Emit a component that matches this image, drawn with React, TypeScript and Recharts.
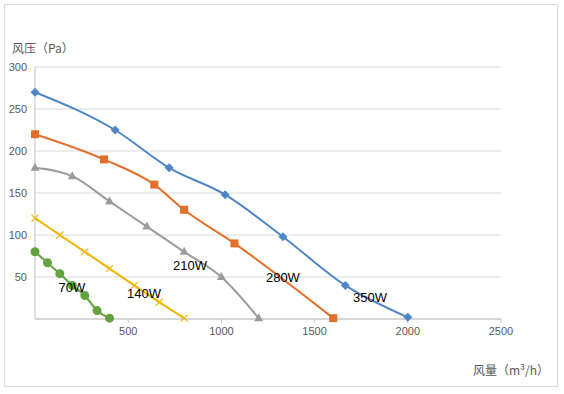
import { CartesianGrid, Line, LineChart, ReferenceDot, XAxis, YAxis } from "recharts";

// air flow (m³/h) and pressure (Pa)
const flow350 = [0, 430, 720, 1020, 1330, 1665, 2000];
const pres350 = [270, 225, 180, 148, 98, 40, 2];
const flow280 = [0, 370, 640, 800, 1070, 1600];
const pres280 = [220, 190, 160, 130, 90, 1];
const flow210 = [0, 200, 400, 600, 800, 1000, 1200];
const pres210 = [180, 170, 140, 110, 80, 50, 1];
const flow140 = [0, 133, 267, 400, 533, 667, 800];
const pres140 = [120, 100, 80, 60, 40, 20, 1];
const flow70 = [0, 67, 133, 200, 267, 333, 400];
const pres70 = [80, 67, 54, 40, 28, 10, 1];

const seriesNames = ["350W", "280W", "210W", "140W", "70W"];
const labelFlow = [1797, 1330, 832, 585, 198];
const labelPres = [26, 50, 64, 31, 38];

const xTicks = [500, 1000, 1500, 2000, 2500];
const yTicks = [50, 100, 150, 200, 250, 300];

const zip = (xs: number[], ys: number[]) => xs.map((x, i) => ({ x, y: ys[i] }));

const s350 = zip(flow350, pres350);
const s280 = zip(flow280, pres280);
const s210 = zip(flow210, pres210);
const s140 = zip(flow140, pres140);
const s70 = zip(flow70, pres70);

const BLUE = "#4f86c6";
const ORANGE = "#e36f2a";
const GRAY = "#9b9b9b";
const YELLOW = "#f2b500";
const GREEN = "#62a23f";

const diamond = (color: string) => (p: any) => {
  const { cx, cy, index } = p;
  const s = 4.5;
  return (
    <path
      key={"d" + index}
      d={`M${cx},${cy - s}L${cx + s},${cy}L${cx},${cy + s}L${cx - s},${cy}Z`}
      fill={color}
    />
  );
};

const square = (color: string) => (p: any) => {
  const { cx, cy, index } = p;
  return <rect key={"s" + index} x={cx - 4} y={cy - 4} width={8} height={8} fill={color} />;
};

const triangle = (color: string) => (p: any) => {
  const { cx, cy, index } = p;
  return (
    <path
      key={"t" + index}
      d={`M${cx},${cy - 5}L${cx + 4.5},${cy + 3}L${cx - 4.5},${cy + 3}Z`}
      fill={color}
    />
  );
};

const cross = (color: string) => (p: any) => {
  const { cx, cy, index } = p;
  const s = 3.5;
  return (
    <path
      key={"x" + index}
      d={`M${cx - s},${cy - s}L${cx + s},${cy + s}M${cx + s},${cy - s}L${cx - s},${cy + s}`}
      stroke={color}
      strokeWidth={1.2}
    />
  );
};

const circle = (color: string) => (p: any) => {
  const { cx, cy, index } = p;
  return <circle key={"c" + index} cx={cx} cy={cy} r={4.5} fill={color} />;
};

export default function App() {
  const tickStyle = { fill: "#595959", fontSize: 11, fontFamily: "Liberation Sans, sans-serif" };
  const titleStyle: any = {
    position: "absolute",
    color: "#595959",
    fontSize: 12,
    fontFamily: "'Noto Sans CJK SC', sans-serif",
    whiteSpace: "nowrap",
    lineHeight: "14px",
  };
  return (
    <div style={{ position: "absolute", left: 0, top: 0, width: 564, height: 394, background: "#fff" }}>
      <div
        style={{
          position: "absolute",
          left: 4,
          top: 4,
          width: 552,
          height: 381,
          border: "1px solid #d9d9d9",
        }}
      />
      <LineChart width={564} height={394} margin={{ top: 67, right: 63, bottom: 45, left: 0 }}>
        <CartesianGrid vertical={false} stroke="#d9d9d9" />
        <XAxis
          type="number"
          dataKey="x"
          domain={[0, 2500]}
          ticks={xTicks}
          height={30}
          stroke="#bfbfbf"
          tickSize={4}
          tickMargin={4}
          tick={tickStyle}
        />
        <YAxis
          type="number"
          dataKey="y"
          domain={[0, 300]}
          ticks={yTicks}
          width={35}
          stroke="#bfbfbf"
          tickLine={false}
          tickSize={0}
          tickMargin={8}
          tick={tickStyle}
        />
        <Line data={s350} dataKey="y" type="monotone" stroke={BLUE} strokeWidth={2} dot={diamond(BLUE)} isAnimationActive={false} />
        <Line data={s280} dataKey="y" type="monotone" stroke={ORANGE} strokeWidth={2} dot={square(ORANGE)} isAnimationActive={false} />
        <Line data={s210} dataKey="y" type="monotone" stroke={GRAY} strokeWidth={2} dot={triangle(GRAY)} isAnimationActive={false} />
        <Line data={s140} dataKey="y" type="monotone" stroke={YELLOW} strokeWidth={2} dot={cross(YELLOW)} isAnimationActive={false} />
        <Line data={s70} dataKey="y" type="monotone" stroke={GREEN} strokeWidth={2} dot={circle(GREEN)} isAnimationActive={false} />
        {seriesNames.map((name, i) => (
          <ReferenceDot
            key={name}
            x={labelFlow[i]}
            y={labelPres[i]}
            r={0}
            fill="none"
            stroke="none"
            label={{ value: name, position: "center", fill: "#000", fontSize: 13, fontFamily: "Liberation Sans, sans-serif" }}
          />
        ))}
      </LineChart>
      <div style={{ ...titleStyle, left: 12, top: 41 }}>风压（Pa）</div>
      <div style={{ ...titleStyle, left: 473, top: 363 }}>风量（m³/h）</div>
    </div>
  );
}
